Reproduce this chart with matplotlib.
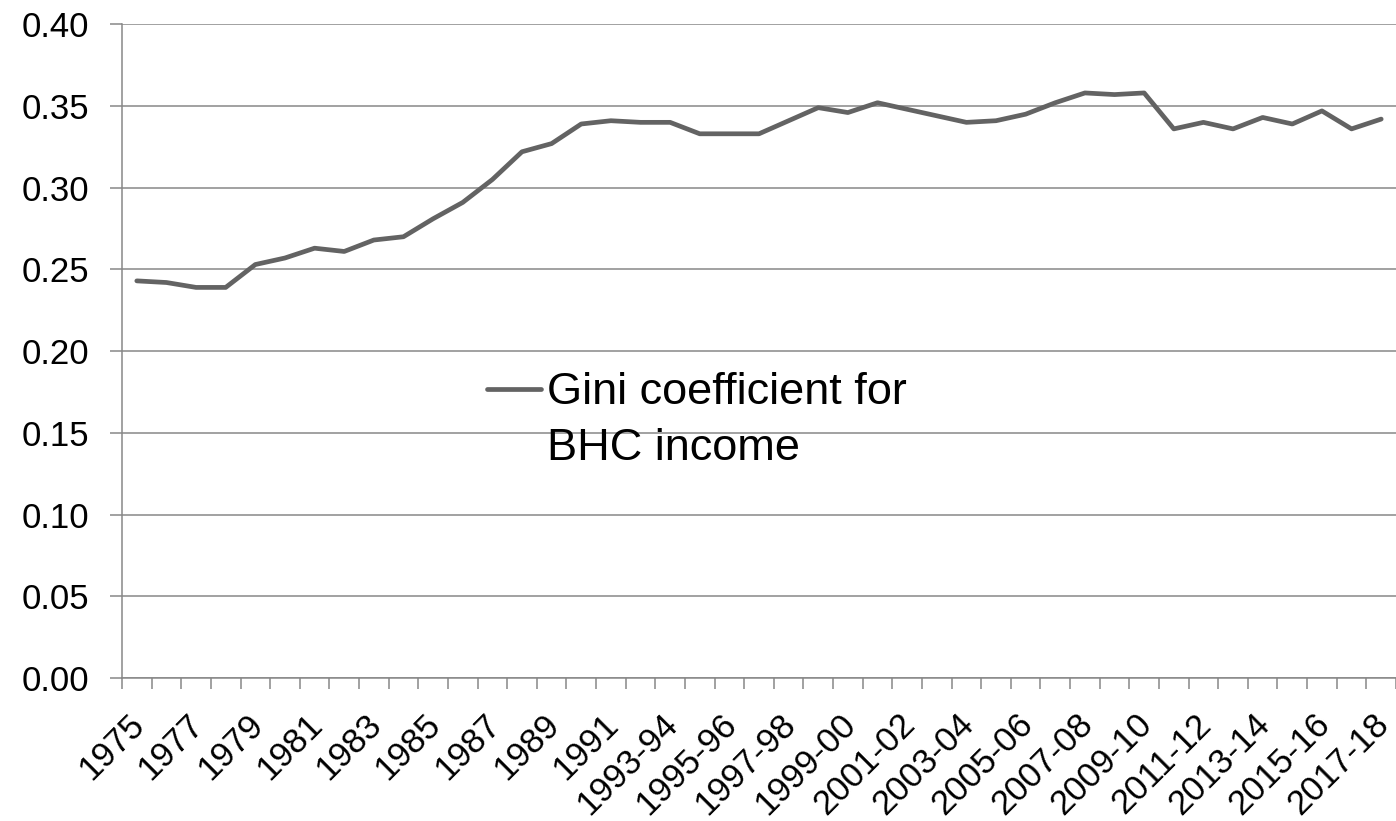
import matplotlib
matplotlib.use("Agg")
import matplotlib.pyplot as plt
from matplotlib.ticker import FixedLocator, MultipleLocator, FormatStrFormatter
from matplotlib.transforms import Affine2D

plt.rcParams["font.family"] = ["Liberation Sans", "DejaVu Sans"]

# Survey years: calendar years to 1992, financial years from 1993-94
years = [
    "1975", "1976", "1977", "1978", "1979", "1980", "1981", "1982", "1983",
    "1984", "1985", "1986", "1987", "1988", "1989", "1990", "1991", "1992",
    "1993-94", "1994-95", "1995-96", "1996-97", "1997-98", "1998-99",
    "1999-00", "2000-01", "2001-02", "2002-03", "2003-04", "2004-05",
    "2005-06", "2006-07", "2007-08", "2008-09", "2009-10", "2010-11",
    "2011-12", "2012-13", "2013-14", "2014-15", "2015-16", "2016-17",
    "2017-18",
]

# Gini coefficient, before-housing-costs income
gini_bhc = [
    0.243, 0.242, 0.239, 0.239, 0.253, 0.257, 0.263, 0.261, 0.268,
    0.270, 0.281, 0.291, 0.305, 0.322, 0.327, 0.339, 0.341, 0.340,
    0.340, 0.333, 0.333, 0.333, 0.341, 0.349,
    0.346, 0.352, 0.348, 0.344, 0.340, 0.341,
    0.345, 0.352, 0.358, 0.357, 0.358, 0.336,
    0.340, 0.336, 0.343, 0.339, 0.347, 0.336,
    0.342,
]

series_label = "Gini coefficient for\nBHC income"

GRID = "#878787"
LINE = "#636363"
DPI = 100
TICK_FS = 25
LEG_FS = 32.5

fig = plt.figure(figsize=(13.96, 8.21), dpi=DPI)
ax = fig.add_axes([122 / 1396, 1 - 678 / 821, 1274 / 1396, (678 - 24.3) / 821])

x = list(range(len(years)))
line, = ax.plot(x, gini_bhc, color=LINE, lw=3.4, solid_capstyle="round",
                solid_joinstyle="round", label=series_label, zorder=3)

ax.set_xlim(-0.5, len(years) - 0.5)
ax.set_ylim(0, 0.40)

# y axis
ax.yaxis.set_major_locator(MultipleLocator(0.05))
ax.yaxis.set_major_formatter(FormatStrFormatter("%.2f"))
ax.grid(axis="y", color=GRID, lw=1.1)
ax.grid(axis="x", visible=False)
ax.tick_params(axis="y", direction="out", length=8.6, width=1.1, color=GRID,
               labelsize=TICK_FS, pad=15)

# x axis: labels on every other category, tick marks between categories
ax.xaxis.set_major_locator(FixedLocator(x[::2]))
ax.set_xticklabels(years[::2])
ax.xaxis.set_minor_locator(FixedLocator([i - 0.5 for i in range(len(years) + 1)]))
ax.tick_params(axis="x", which="major", length=0, labelsize=TICK_FS, pad=28)
ax.tick_params(axis="x", which="minor", direction="out", length=8, width=1.1,
               color=GRID)
for lab in ax.get_xticklabels():
    lab.set_rotation(45)
    lab.set_rotation_mode("anchor")
    lab.set_ha("right")
    lab.set_va("center_baseline")

for side in ("top", "right"):
    ax.spines[side].set_visible(False)
for side in ("left", "bottom"):
    ax.spines[side].set_color(GRID)
    ax.spines[side].set_linewidth(1.1)

ax.set_axisbelow(True)

leg = ax.legend(loc="upper left", bbox_to_anchor=(487 / 1396, 1 - 372 / 821),
                bbox_transform=fig.transFigure, frameon=False, fontsize=LEG_FS,
                handlelength=1.2, handletextpad=0.14, borderpad=0,
                borderaxespad=0)
leg_text = leg.get_texts()[0]
leg_text.set_linespacing(1.47)

# keep the key line level with the middle of the first text line
fig.canvas.draw()
em = LEG_FS * DPI / 72
top = leg_text.get_window_extent().y1
hl = leg.legend_handles[0]
cur_y = hl.get_transform().transform(hl.get_xydata())[0][1]
hl.set_transform(hl.get_transform()
                 + Affine2D().translate(0, (top - 0.37 * em) - cur_y))

fig.savefig("out.png", dpi=DPI)
